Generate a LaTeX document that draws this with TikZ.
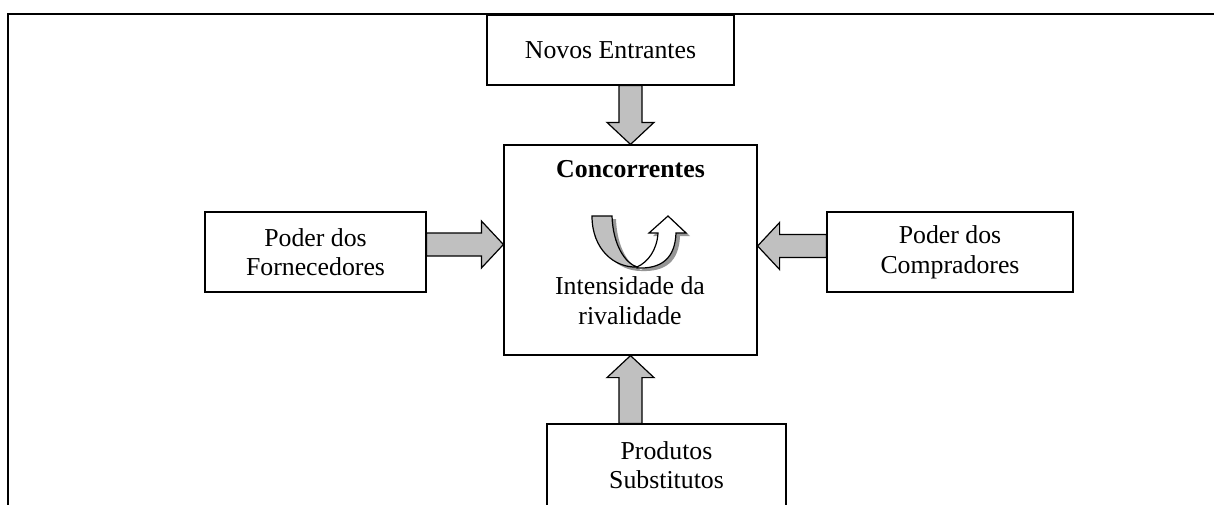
\documentclass[tikz,border=0pt]{standalone}
\usepackage{fontspec}
\setmainfont{Liberation Serif}
\usetikzlibrary{calc,positioning}
\definecolor{setaCinza}{RGB}{192,192,192}
\definecolor{sombraCinza}{RGB}{150,150,150}
\tikzset{
    caixa/.style={draw, line width=0.6pt, rectangle, align=center, inner sep=2pt,
        font=\fontsize{12.9}{14.8}\selectfont},
    blockArrow/.style={draw, fill=setaCinza, line width=0.6pt, line join=miter}
}
% block arrow from #1 to #2
\newcommand{\blockarrow}[2]{%
    \draw[blockArrow] let \p1=(#1), \p2=(#2),
        \n1={atan2(\y2-\y1,\x2-\x1)}, \n2={veclen(\x2-\x1,\y2-\y1)-11} in
        ($(\p1)+(\n1+90:5.75pt)$) -- ++(\n1:\n2) -- ++(\n1+90:6pt) -- (\p2)
        -- ($(\p1)+(\n1:\n2)+(\n1-90:11.75pt)$) -- ++(\n1+90:6pt)
        -- ($(\p1)+(\n1-90:5.75pt)$) -- cycle;}

\begin{document}
\begin{tikzpicture}[x=0.5pt, y=-0.5pt]
    \useasboundingbox (0,0) rectangle (1214,504);
    \clip (0,0) rectangle (1214,504);
    % frame
    \draw[line width=1pt] (8,530) -- (8,14) -- (1240,14);

    \node[caixa, minimum width=123.5pt, minimum height=35pt] (entrantes) at (610.5,50) {Novos Entrantes};
    \node[caixa, minimum width=126.5pt, minimum height=105pt] (concorrentes) at (630.5,250) {};
    \node[caixa, minimum width=110.5pt, minimum height=40pt] (fornecedores) at (315.5,252) {Poder dos\\Fornecedores};
    \node[caixa, minimum width=123pt, minimum height=40pt] (compradores) at (950,252) {Poder dos\\Compradores};
    \node[caixa, minimum width=119.5pt, minimum height=41pt] (substitutos) at (666.5,465) {Produtos\\Substitutos};

    \node[font=\fontsize{12.9}{14.8}\selectfont\bfseries, inner sep=0pt] (titulo) at ([yshift=-12.5pt]concorrentes.north) {Concorrentes};
    \node[font=\fontsize{12.9}{15}\selectfont, align=center, inner sep=0pt] (rivalidade) at (630,301) {Intensidade da\\rivalidade};

    % forces
    \coordinate (fe) at ([yshift=3.75pt]fornecedores.east);
    \coordinate (cw) at (concorrentes.west |- fe);
    \coordinate (cp) at ([yshift=3pt]compradores.west);
    \coordinate (ce) at (concorrentes.east |- cp);
    \coordinate (es) at (entrantes.south -| concorrentes.north);
    \coordinate (sn) at (substitutos.north -| concorrentes.south);
    \blockarrow{es}{concorrentes.north}
    \blockarrow{fe}{cw}
    \blockarrow{cp}{ce}
    \blockarrow{sn}{concorrentes.south}

    % rivalry arrow
    \begin{scope}[shift={(4,3)}, fill=sombraCinza]
    \fill (592,216) -- (612,216) .. controls (613,245) and (625,263) .. (637,267)
        .. controls (648,262) and (657,250) .. (658,233) -- (649,233) -- (668,216) -- (686,233) -- (676,233)
        .. controls (675,258) and (662,269) .. (637,268)
        .. controls (615,268) and (592,250) .. (592,216) -- cycle;
    \end{scope}
    \draw[fill=setaCinza, line width=0.6pt] (592,216) -- (612,216) .. controls (613,245) and (625,263) .. (637,267)
        .. controls (615,268) and (592,250) .. (592,216) -- cycle;
    \draw[fill=white, line width=0.6pt, line join=miter] (637,267)
        .. controls (648,262) and (657,250) .. (658,233) -- (649,233) -- (668,216) -- (686,233) -- (676,233)
        .. controls (675,258) and (662,269) .. (637,268) -- cycle;
\end{tikzpicture}
\end{document}
